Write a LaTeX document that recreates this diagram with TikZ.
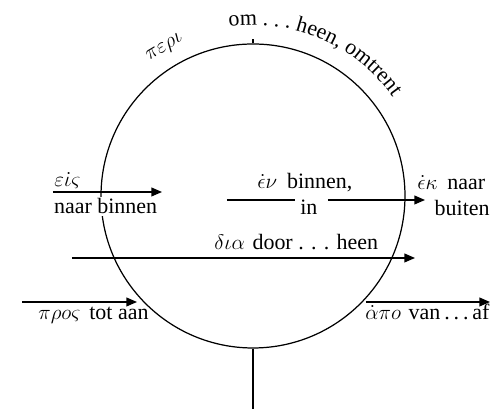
\documentclass[tikz,border=0pt]{standalone}
\usepackage{fontspec}
\setmainfont{Liberation Serif}
\usepackage{tikz}
\usetikzlibrary{arrows.meta,decorations.text}
\tikzset{
  prring/.style={circle, draw=black, line width=0.7pt, minimum size=6.08cm, inner sep=0pt},
  prline/.style={line width=0.7pt, draw=black},
  prarrow/.style={line width=0.7pt, draw=black, -{Triangle[length=6pt,width=5pt]}},
  prlabel/.style={inner sep=0pt, font=\fontsize{12.5}{15}\selectfont},
  prmask/.style={prlabel, inner sep=1pt, fill=white},
}

\begin{document}
\begin{tikzpicture}
\useasboundingbox (0,0) rectangle (9.86,8.18);
\node[prring] (ring) at (5.06,4.26) {};
\coordinate (tick) at (5.06,7.40);
\coordinate (foot) at (5.06,0);
\draw[prline] (ring.north) -- (tick);
\draw[prline] (ring.south) -- (foot);
% labels
\node[prlabel, rotate=31] (peri) at (3.30,7.22) {$\pi\varepsilon\rho\iota$};
\path[decorate, decoration={text along path, text align=left,
  text={|\fontsize{12.5}{15}\selectfont|om . . . heen, omtrent}}]
  (ring.center) ++(98:3.42) arc[start angle=98, end angle=20, radius=3.42];
\node[prlabel, anchor=base west] (eis) at (1.08,4.44) {$\varepsilon\dot\iota\varsigma$};
\node[prmask, anchor=base west] (eisT) at (1.04,3.90) {naar binnen};
\node[prlabel, anchor=base west] (en) at (5.14,4.40) {$\dot\epsilon\nu$\hspace{0.45em}binnen,};
\node[prlabel, anchor=base west] (enT) at (6.00,3.88) {in};
\node[prlabel, anchor=base west] (ek) at (8.34,4.38) {$\dot\epsilon\kappa$\hspace{0.45em}naar};
\node[prlabel, anchor=base east] (ekT) at (9.80,3.86) {buiten};
\node[prlabel, anchor=base west] (dia) at (4.28,3.18) {$\delta\iota\alpha$\hspace{0.35em}door . . . heen};
\node[prlabel, anchor=base west] (pros) at (0.76,1.78) {$\pi\rho o\varsigma$\hspace{0.4em}tot aan};
\node[prlabel, anchor=base west] (apo) at (7.30,1.78)
  {$\dot\alpha\pi o$\hspace{0.35em}van\kern2.2pt.\kern2.2pt.\kern2.2pt.\kern2.2pt af};
% arrows
\coordinate (eisA) at (1.06,4.34);
\coordinate (eisB) at (3.24,4.34);
\draw[prarrow] (eisA) -- (eisB);
\coordinate (enA) at (4.54,4.18);
\coordinate (enB) at (5.90,4.18);
\coordinate (enC) at (6.56,4.18);
\coordinate (enD) at (8.50,4.18);
\draw[prline] (enA) -- (enB);
\draw[prarrow] (enC) -- (enD);
\coordinate (diaA) at (1.44,3.02);
\coordinate (diaB) at (8.30,3.02);
\draw[prarrow] (diaA) -- (diaB);
\coordinate (prosA) at (0.44,2.14);
\coordinate (prosB) at (2.74,2.14);
\draw[prarrow] (prosA) -- (prosB);
\coordinate (apoA) at (7.32,2.14);
\coordinate (apoB) at (9.80,2.14);
\draw[prarrow] (apoA) -- (apoB);
\end{tikzpicture}
\end{document}
